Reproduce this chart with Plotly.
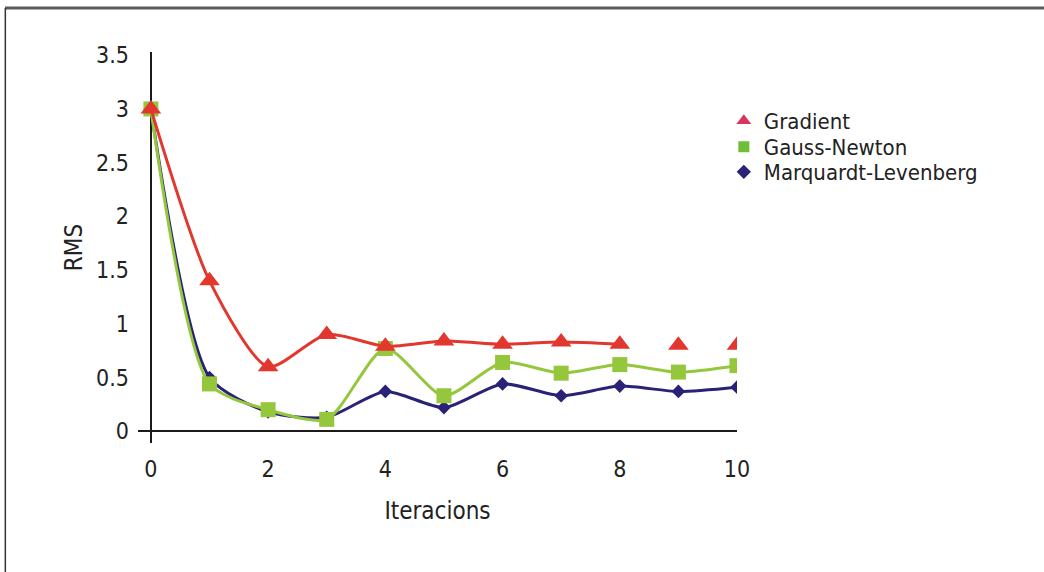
import plotly.graph_objects as go

iteracions = [0, 1, 2, 3, 4, 5, 6, 7, 8, 9, 10]
gradient = [3.0, 1.40, 0.60, 0.90, 0.79, 0.84, 0.81, 0.83, 0.81, 0.80, 0.80]
gauss_newton = [3.0, 0.44, 0.20, 0.11, 0.77, 0.33, 0.64, 0.54, 0.62, 0.55, 0.61]
marquardt = [3.0, 0.50, 0.18, 0.13, 0.37, 0.22, 0.44, 0.33, 0.42, 0.37, 0.41]
gradient_line_points = 9  # the Gradient curve is drawn through iterations 0..8 only

series_names = ["Gradient", "Gauss-Newton", "Marquardt-Levenberg"]
x_ticks = [0, 2, 4, 6, 8, 10]
y_ticks = [0, 0.5, 1, 1.5, 2, 2.5, 3, 3.5]
y_tick_text = ["0", "0.5", "1", "1.5", "2", "2.5", "3", "3.5"]

RED = "#E2372F"
GREEN = "#95C73C"
BLUE = "#2A2277"
LEG_RED = "#D9365F"
LEG_GREEN = "#6FBE3A"
FONT = "DejaVu Sans Condensed, DejaVu Sans, sans-serif"
SMOOTH = 0.7

fig = go.Figure()

# Marquardt-Levenberg
fig.add_trace(go.Scatter(
    x=iteracions, y=marquardt, mode="lines+markers", name=series_names[2],
    line=dict(color=BLUE, width=3, shape="spline", smoothing=SMOOTH),
    marker=dict(symbol="diamond", size=10.5, color=BLUE),
    showlegend=False,
))
# Gauss-Newton
fig.add_trace(go.Scatter(
    x=iteracions, y=gauss_newton, mode="lines+markers", name=series_names[1],
    line=dict(color=GREEN, width=3, shape="spline", smoothing=SMOOTH),
    marker=dict(symbol="square", size=15, color=GREEN),
    showlegend=False,
))
# Gradient line (0..8)
fig.add_trace(go.Scatter(
    x=iteracions[:gradient_line_points], y=gradient[:gradient_line_points], mode="lines",
    name=series_names[0],
    line=dict(color=RED, width=3, shape="spline", smoothing=SMOOTH),
    showlegend=False, hoverinfo="skip",
))
# Gradient markers
fig.add_trace(go.Scatter(
    x=iteracions, y=gradient, mode="markers", name=series_names[0],
    marker=dict(symbol="triangle-up", size=18, color=RED),
    showlegend=False,
))

# legend entries (marker-only, one legend per row)
fig.add_trace(go.Scatter(x=[None], y=[None], mode="markers", name=series_names[0],
                         marker=dict(symbol="triangle-up", size=13, color=LEG_RED),
                         legend="legend"))
fig.add_trace(go.Scatter(x=[None], y=[None], mode="markers", name=series_names[1],
                         marker=dict(symbol="square", size=11, color=LEG_GREEN),
                         legend="legend2"))
fig.add_trace(go.Scatter(x=[None], y=[None], mode="markers", name=series_names[2],
                         marker=dict(symbol="diamond", size=11, color=BLUE),
                         legend="legend3"))

# frame lines (top and left)
fig.add_shape(type="line", xref="paper", yref="paper",
              x0=-0.222, x1=1.6, y0=1.1125, y1=1.1125,
              line=dict(color="#5a5a5a", width=3))
fig.add_shape(type="line", xref="paper", yref="paper",
              x0=-0.2215, x1=-0.2215, y0=1.1125, y1=-0.35,
              line=dict(color="#333333", width=1.5))

leg_common = dict(x=0.978, xanchor="left", yanchor="middle",
                  font=dict(family=FONT, size=22, color="#222222"),
                  bgcolor="rgba(0,0,0,0)", itemsizing="trace")

fig.update_layout(
    width=1044, height=572,
    margin=dict(l=138, r=307, t=52, b=129),
    paper_bgcolor="white", plot_bgcolor="white",
    font=dict(family=FONT, size=23, color="#222222"),
    showlegend=True,
    legend=dict(y=(443 - 121) / 391, **leg_common),
    legend2=dict(y=(443 - 147) / 391, **leg_common),
    legend3=dict(y=(443 - 172) / 391, **leg_common),
    xaxis=dict(
        range=[-0.22, 10], tickvals=x_ticks, ticktext=[str(v) for v in x_ticks],
        showgrid=False, showline=False, zeroline=True,
        zerolinecolor="#1a1a1a", zerolinewidth=2,
        ticks="", ticklabelstandoff=10,
        title=dict(text="Iteracions", font=dict(size=24), standoff=21),
    ),
    yaxis=dict(
        range=[-0.11, 3.53], tickvals=y_ticks, ticktext=y_tick_text,
        showgrid=False, showline=False, zeroline=True,
        zerolinecolor="#1a1a1a", zerolinewidth=2,
        ticks="", ticklabelstandoff=8,
        title=dict(text="RMS", font=dict(size=24), standoff=6),
    ),
)

fig.write_html("out.html", config={"displayModeBar": False},
               post_script="document.body.style.margin='0px';")
